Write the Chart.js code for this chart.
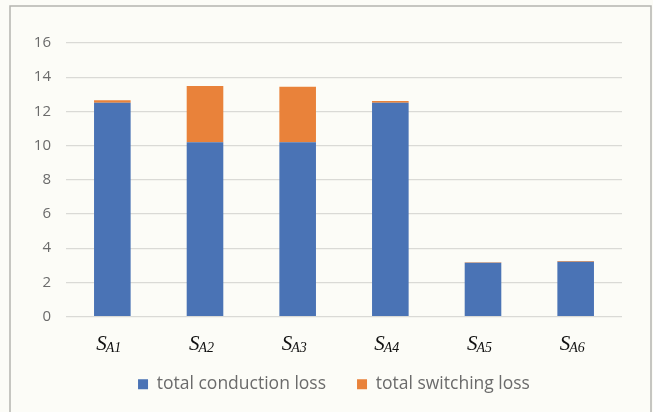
<!DOCTYPE html>
<html>
<head>
<meta charset="utf-8">
<script src="https://cdn.jsdelivr.net/npm/chart.js@4"></script>
<style>
  html, body { margin: 0; padding: 0; background: #fcfcf7; }
  #wrap { position: relative; width: 653px; height: 412px; }
</style>
</head>
<body>
<div id="wrap"><canvas id="lossChart" width="653" height="412"></canvas></div>
<script>
// switch names: S with subscript
const switchSubs = ["A1", "A2", "A3", "A4", "A5", "A6"];
const conductionLoss = [12.5, 10.2, 10.2, 12.5, 3.15, 3.2];
const switchingLoss = [0.15, 3.28, 3.24, 0.1, 0.03, 0.04];
const yTicks = [0, 2, 4, 6, 8, 10, 12, 14, 16];

const blue = "#4a73b5";
const orange = "#e9823a";
const gray = "#6b6b6b";
const gridColor = "#dadad6";

// background + thin frame around the chart
const framePlugin = {
  id: "frame",
  beforeDraw(chart) {
    const c = chart.ctx;
    c.save();
    c.fillStyle = "#fcfcf7";
    c.fillRect(0, 0, chart.width, chart.height);
    c.strokeStyle = "#b4b4b0";
    c.lineWidth = 1.5;
    c.beginPath();
    c.moveTo(10, 420);
    c.lineTo(10, 6);
    c.lineTo(651, 6);
    c.lineTo(651, 420);
    c.stroke();
    c.restore();
  },
  // legend sits a bit right of the canvas centre in the original
  afterLayout(chart) {
    if (chart.legend) {
      chart.legend.left += 23;
      chart.legend.right += 23;
    }
  },
};

// category labels drawn as italic S with a subscript
const subLabelPlugin = {
  id: "subLabels",
  afterDraw(chart) {
    const c = chart.ctx;
    const xs = chart.scales.x;
    const mainFont = "italic 21px 'Liberation Serif', 'DejaVu Serif', serif";
    const subFont = "italic 14px 'Liberation Serif', 'DejaVu Serif', serif";
    c.save();
    c.fillStyle = "#111";
    c.textBaseline = "alphabetic";
    c.textAlign = "left";
    switchSubs.forEach((sub, i) => {
      c.font = mainFont;
      const w1 = c.measureText("S").width;
      c.font = subFont;
      const w2 = c.measureText(sub).width;
      const x0 = xs.getPixelForTick(i) - (w1 + w2) / 2 - 3;
      c.font = mainFont;
      c.fillText("S", x0, 350);
      c.font = subFont;
      c.fillText(sub, x0 + w1 - 1, 352);
    });
    c.restore();
  },
};

const ctx = document.getElementById("lossChart").getContext("2d");
new Chart(ctx, {
  type: "bar",
  data: {
    labels: switchSubs.map((s) => "S" + s),
    datasets: [
      {
        label: "total conduction loss",
        data: conductionLoss,
        backgroundColor: blue,
        barPercentage: 0.395,
        categoryPercentage: 1,
      },
      {
        label: "total switching loss",
        data: switchingLoss,
        backgroundColor: orange,
        barPercentage: 0.395,
        categoryPercentage: 1,
      },
    ],
  },
  options: {
    responsive: false,
    animation: false,
    layout: { padding: { top: 43, right: 31, left: 0, bottom: 9 } },
    scales: {
      x: {
        stacked: true,
        grid: { display: false },
        border: { display: false },
        ticks: { color: "transparent", font: { size: 14 } },
        afterFit(scale) {
          scale.height = 28;
        },
      },
      y: {
        stacked: true,
        min: 0,
        max: 16,
        afterBuildTicks(scale) {
          scale.ticks = yTicks.map((v) => ({ value: v }));
        },
        afterFit(scale) {
          scale.width = 66;
        },
        grid: { color: gridColor, lineWidth: 1.2, drawTicks: false },
        border: { display: false },
        ticks: {
          color: gray,
          padding: 15,
          font: { family: "'Open Sans'", size: 15 },
        },
      },
    },
    plugins: {
      legend: {
        position: "bottom",
        labels: {
          boxWidth: 10,
          boxHeight: 10,
          padding: 31,
          color: gray,
          font: { family: "'Open Sans'", size: 17.5 },
        },
      },
      tooltip: { enabled: false },
    },
  },
  plugins: [framePlugin, subLabelPlugin],
});
</script>
</body>
</html>
